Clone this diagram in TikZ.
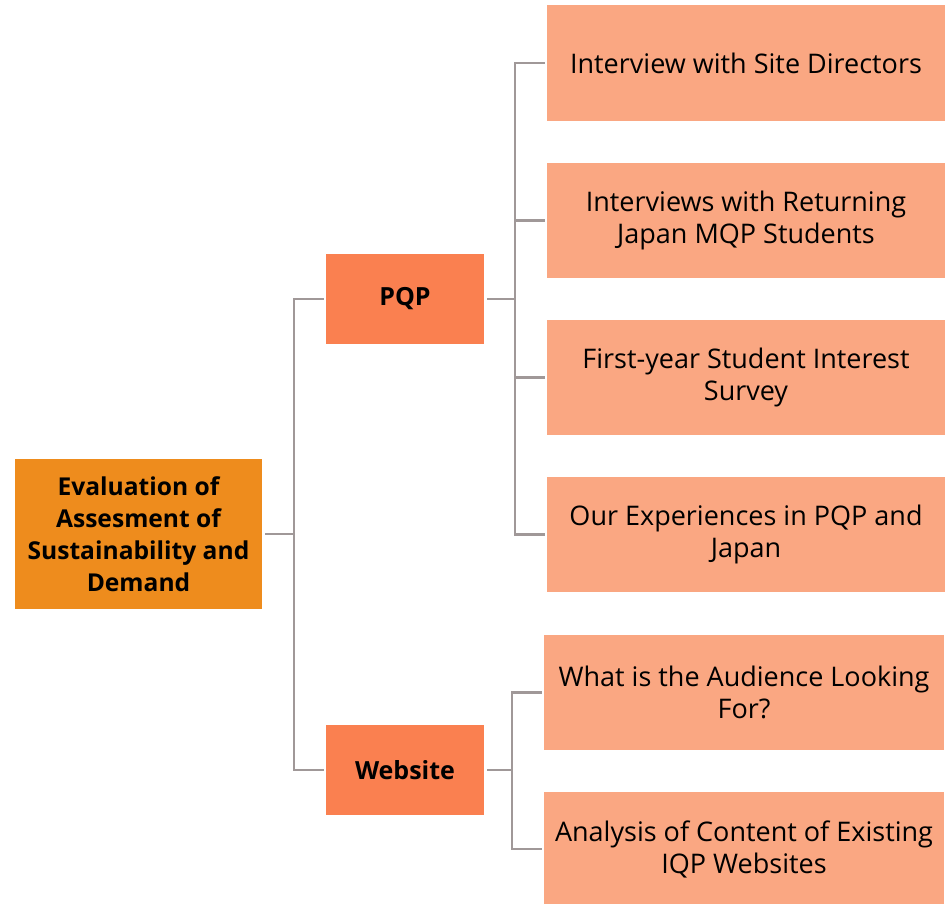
\documentclass[tikz,border=0pt]{standalone}
\usepackage{fontspec}
\setmainfont{Open Sans}
\definecolor{rootc}{RGB}{238,140,29}
\definecolor{midc}{RGB}{250,128,80}
\definecolor{leafc}{RGB}{250,167,130}
\definecolor{linec}{RGB}{160,152,152}
\tikzset{
  rootbox/.style={fill=rootc, minimum width=247pt, minimum height=150pt, inner sep=0pt, align=center, font=\fontsize{24.6}{32}\selectfont\bfseries},
  midbox/.style={fill=midc, minimum width=158pt, minimum height=90pt, inner sep=0pt, align=center, font=\fontsize{25}{32}\selectfont\bfseries},
  leafbox/.style={fill=leafc, minimum width=398pt, minimum height=116pt, inner sep=0pt, align=center, font=\fontsize{27}{32}\selectfont},
  conn/.style={draw=linec, line width=2.5pt, shorten <=3pt, shorten >=2pt}
}
\begin{document}
\begin{tikzpicture}[x=1pt,y=-1pt]
\useasboundingbox (0,0) rectangle (945,904);
\node[rootbox] (root) at (138.5,534) {Evaluation of\\Assesment of\\Sustainability and\\Demand};
\node[midbox] (pqp) at (405,299) {PQP};
\node[midbox] (web) at (405,770) {Website};
\node[leafbox] (c1) at (746,63) {Interview with Site Directors};
\node[leafbox, minimum height=115pt] (c2) at (746,220.5) {Interviews with Returning\\Japan MQP Students};
\node[leafbox, minimum height=115pt] (c3) at (746,377.5) {First-year Student Interest\\Survey};
\node[leafbox, minimum height=115pt] (c4) at (746,534.5) {Our Experiences in PQP and\\Japan};
\node[leafbox, minimum width=400pt, minimum height=115pt] (w1) at (744,692.5) {What is the Audience Looking\\For?};
\node[leafbox, minimum width=400pt, minimum height=114pt] (w2) at (744,849) {Analysis of Content of Existing\\IQP Websites};
\coordinate (b0) at (294,534);
\coordinate (b1) at (515,299);
\coordinate (b2) at (512,770);
\draw[conn] (root.east) -- (b0) |- (pqp.west);
\draw[conn] (root.east) -- (b0) |- (web.west);
\foreach \c in {c1,c2,c3,c4} {\draw[conn] (pqp.east) -- (b1) |- (\c.west);}
\foreach \c in {w1,w2} {\draw[conn] (web.east) -- (b2) |- (\c.west);}
\end{tikzpicture}
\end{document}
